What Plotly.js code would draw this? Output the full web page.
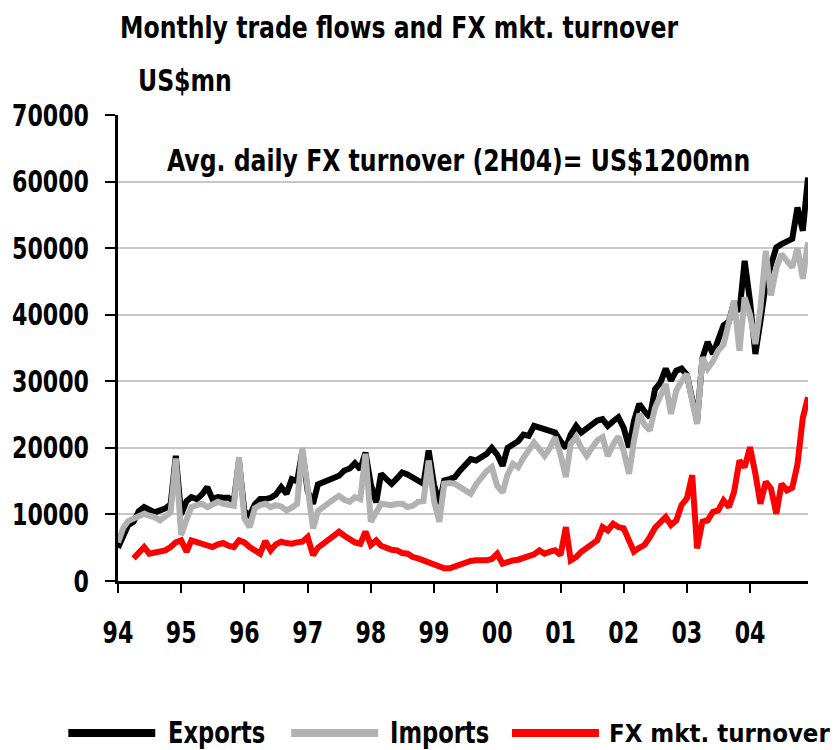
<!DOCTYPE html>
<html>
<head>
<meta charset="utf-8">
<script src="https://cdn.plot.ly/plotly-3.0.1.min.js"></script>
<style>
  html, body { margin: 0; padding: 0; background: #fff; }
  #chart { width: 838px; height: 750px; }
</style>
</head>
<body>
<div id="chart"></div>
<script>
// Years covered (monthly data, Jan 1994 - Dec 2004)
const years = [1994, 1995, 1996, 1997, 1998, 1999, 2000, 2001, 2002, 2003, 2004];
const tickLabels = ["94", "95", "96", "97", "98", "99", "00", "01", "02", "03", "04"];

// Exports, US$mn (monthly)
const exportsMn = [
  5000, 6800, 8400, 8900, 10500, 11100, 10600, 10300, 10600, 10900, 11500, 18800,
  10000, 12000, 12600, 12300, 13000, 14100, 12300, 12600, 12500, 12500, 12000, 18000,
  10500, 9800, 11500, 12300, 12300, 12500, 13000, 14100, 13100, 15300, 15000, 19500,
  13500, 11600, 14500, 14800, 15300, 15500, 15800, 16600, 16900, 17700, 16800, 19300,
  14500, 11800, 16100, 15300, 14600, 15400, 16300, 16000, 15600, 15000, 14600, 19600,
  14500, 11600, 15100, 15300, 15600, 16600, 17500, 18300, 18100, 18600, 19100, 20000,
  19000, 17300, 20000, 20500, 21000, 22000, 21800, 23300, 23000, 22800, 22600, 22300,
  21000, 20000, 22000, 23300, 22300, 22900, 23500, 24100, 24300, 23300, 24000, 24600,
  23000, 20100, 24000, 26600, 25500, 24600, 28800, 29800, 31900, 30100, 31600, 31900,
  31000, 27000, 24000, 33500, 35900, 34100, 36500, 38400, 39000, 41900, 40500, 48100,
  42000, 34100, 39000, 44600, 47500, 50100, 50600, 51000, 51400, 56100, 52600, 60600
];

// Imports, US$mn (monthly)
const importsMn = [
  5800, 8000, 9000, 9400, 9600, 10100, 9800, 9600, 9100, 9600, 10300, 18400,
  6900, 9200, 11100, 11400, 11600, 11100, 11500, 11900, 11600, 11500, 11300, 18600,
  9400, 8100, 10900, 11400, 11600, 11100, 11400, 11200, 10600, 11000, 11600, 20000,
  13500, 7900, 10500, 11100, 11900, 12300, 12800, 12200, 11900, 12600, 12300, 19100,
  8900, 10500, 11600, 11500, 11400, 11600, 11600, 11100, 11300, 11900, 12000, 18100,
  12000, 8900, 14600, 14700, 14600, 14100, 13600, 13100, 14500, 15600, 16500, 17100,
  14300, 13300, 16000, 17600, 17100, 18500, 19800, 20800, 19800, 18800, 20000, 21600,
  19000, 15600, 20600, 21600, 20000, 18800, 20000, 21100, 21600, 18800, 20500, 21700,
  19500, 16100, 21000, 25100, 23500, 22600, 26000, 28100, 29600, 25100, 28600, 30000,
  31100, 27000, 23600, 33600, 31900, 33000, 34600, 35500, 38500, 42100, 34600, 42600,
  40000, 35600, 41000, 49600, 42900, 47000, 49100, 48000, 47100, 50000, 45400, 50900
];

// FX market turnover, US$mn (monthly; market data start Apr 1994)
const fxTurnoverMn = [
  null, null, null, 3400, 4300, 5100, 4100, 4300, 4400, 4600, 5100, 5800,
  6100, 4400, 6100, 5800, 5600, 5300, 5100, 5500, 5700, 5300, 5100, 6100,
  5800, 5100, 4600, 4100, 6000, 4600, 5500, 5900, 5700, 5600, 5800, 5900,
  6600, 3900, 5000, 5600, 6400, 6900, 7400, 6800, 6300, 5800, 5600, 7400,
  5400, 6100, 5300, 4900, 4700, 4600, 4200, 4100, 3600, 3400, 3100, 2800,
  2400, 2100, 1900, 1900, 2200, 2600, 2900, 3000, 3100, 3000, 3100, 3300,
  4100, 2600, 2900, 3100, 3200, 3400, 3600, 4000, 4600, 4100, 4400, 4600,
  3900, 8100, 3100, 3600, 4400, 5000, 5600, 6100, 8100, 7600, 8600, 8100,
  7900, 6000, 4400, 5000, 5400, 6600, 8000, 8800, 9600, 8400, 9100, 11400,
  12400, 15900, 4900, 8900, 9100, 10400, 10600, 12100, 11100, 13400, 18100, 17100,
  20100, 16100, 11600, 14900, 13900, 10100, 14600, 13600, 14000, 17500, 24500, 27600
];

const seriesNames = ["Exports", "Imports", "FX mkt. turnover"];
const seriesColors = ["#000000", "#b2b2b2", "#ff0000"];

// Month dates (first of each month)
const months = [];
years.forEach(y => {
  for (let m = 1; m <= 12; m++) months.push(y + "-" + String(m).padStart(2, "0") + "-01");
});
const yearTicks = years.map(y => y + "-01-01");

const FONT = "'DejaVu Sans Condensed', 'DejaVu Sans', sans-serif";
const F = (size) => ({ family: FONT, size: size, color: "#000", weight: "bold" });

const traces = [exportsMn, importsMn, fxTurnoverMn].map((vals, i) => ({
  type: "scatter",
  mode: "lines",
  name: seriesNames[i],
  x: months,
  y: vals,
  line: { color: seriesColors[i], width: 6, shape: "linear" },
  connectgaps: false,
  showlegend: false,
  hoverinfo: "x+y+name"
}));

// custom legend (long line samples as in the reference)
const legendPos = [
  { x0: -0.072, x1: 0.054, tx: 0.069 },
  { x0: 0.251, x1: 0.377, tx: 0.391 },
  { x0: 0.571, x1: 0.697, tx: 0.708 }
];
const legendSizes = [30, 30, 25.5];
const legendY = -0.326;
const shapes = legendPos.map((p, i) => ({
  type: "line", xref: "paper", yref: "paper",
  x0: p.x0, x1: p.x1, y0: legendY, y1: legendY,
  line: { color: seriesColors[i], width: 8 }
}));
const annotations = legendPos.map((p, i) => ({
  xref: "paper", yref: "paper", x: p.tx, y: legendY,
  xanchor: "left", yanchor: "middle", align: "left", showarrow: false,
  text: seriesNames[i], font: F(legendSizes[i])
}));
annotations.push({
  xref: "paper", yref: "paper", x: 0.068, y: 0.903,
  xanchor: "left", yanchor: "middle", align: "left", showarrow: false,
  text: "Avg. daily FX turnover (2H04)= US$1200mn", font: F(30)
});
annotations.push({
  xref: "paper", yref: "paper", x: 0.026, y: 1.075,
  xanchor: "left", yanchor: "middle", align: "left", showarrow: false,
  text: "US$mn", font: F(30)
});

const layout = {
  width: 838, height: 750,
  paper_bgcolor: "#ffffff", plot_bgcolor: "#ffffff",
  margin: { l: 118, r: 30, t: 115, b: 169, pad: 0 },
  font: F(30),
  title: {
    text: "Monthly trade flows and FX mkt. turnover",
    font: F(30),
    xref: "paper", x: 0.003, xanchor: "left",
    yref: "container", y: 0.964, yanchor: "middle"
  },
  xaxis: {
    type: "date",
    range: ["1994-01-01", "2004-12-01"],
    tickmode: "array",
    tickvals: yearTicks,
    ticktext: tickLabels,
    ticks: "outside", ticklen: 9, tickwidth: 2, tickcolor: "#000",
    showline: true, linecolor: "#000", linewidth: 3,
    showgrid: false, zeroline: false,
    ticklabelstandoff: 14,
    tickfont: F(30),
    fixedrange: true
  },
  yaxis: {
    range: [0, 70000],
    tickmode: "array",
    tickvals: [0, 10000, 20000, 30000, 40000, 50000, 60000, 70000],
    ticktext: ["0", "10000", "20000", "30000", "40000", "50000", "60000", "70000"],
    ticks: "outside", ticklen: 10, tickwidth: 2, tickcolor: "#000",
    showline: true, linecolor: "#000", linewidth: 3,
    showgrid: true, gridcolor: "#c8c8c8", gridwidth: 2,
    zeroline: false,
    ticklabelstandoff: 10,
    tickfont: F(30),
    fixedrange: true
  },
  shapes: shapes,
  annotations: annotations,
  showlegend: false
};

// Narrow the glyphs (reference uses a condensed face) while keeping real text
function condense(gd) {
  const title = gd.querySelector(".gtitle");
  const kText = title ? 558 / title.getComputedTextLength() : 0.88;
  let kNum = 0.82;
  const ylab = Array.from(gd.querySelectorAll(".ytick text")).find(t => t.textContent === "70000");
  if (ylab) kNum = 77 / ylab.getComputedTextLength();
  const squeeze = (el, k) => {
    const len = el.getComputedTextLength();
    if (len > 0 && k < 1) {
      const newLen = len * k;
      el.setAttribute("textLength", newLen.toFixed(2));
      el.setAttribute("lengthAdjust", "spacingAndGlyphs");
      const parent = el.parentNode;
      const bg = parent ? parent.querySelector("rect.bg") : null;
      if (bg) {
        const w = parseFloat(bg.getAttribute("width") || "0");
        if (w > 0) bg.setAttribute("width", Math.max(0, w - (len - newLen)).toFixed(2));
      }
    }
  };
  gd.querySelectorAll(".gtitle, .annotation-text").forEach(el => {
    const idx = seriesNames.indexOf(el.textContent);
    let k = kText;
    if (idx === 2) k = 1;            // last legend label: smaller font, not narrowed
    else if (idx >= 0) k = kText * 0.96;
    squeeze(el, k);
  });
  gd.querySelectorAll(".ytick text, .xtick text").forEach(el => squeeze(el, kNum));
}

const gd = document.getElementById("chart");
Plotly.newPlot(gd, traces, layout, { displayModeBar: false, staticPlot: true })
  .then(() => condense(gd));
</script>
</body>
</html>
